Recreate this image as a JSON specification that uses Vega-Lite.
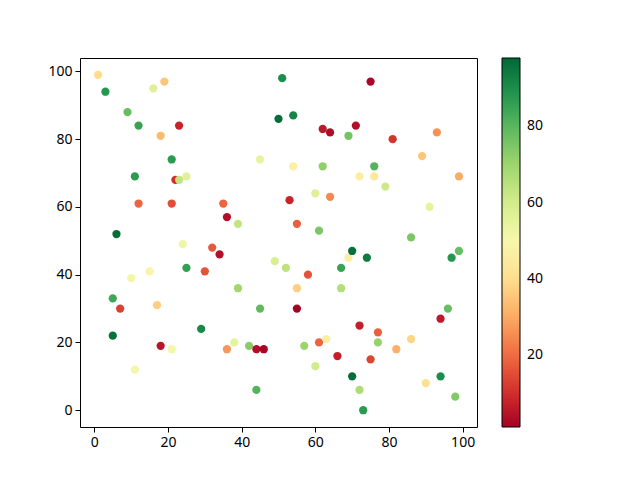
{
  "$schema": "https://vega.github.io/schema/vega-lite/v6.json",
  "autosize": {"type": "none"},
  "padding": {"left": 80, "top": 58, "right": 163, "bottom": 53},
  "width": 397,
  "height": 369,
  "background": "white",
  "data": {"values": [
    {"x":1,"y":99,"c":40},{"x":3,"y":94,"c":88},{"x":16,"y":95,"c":57},{"x":19,"y":97,"c":35},
    {"x":9,"y":88,"c":78},{"x":12,"y":84,"c":85},{"x":23,"y":84,"c":8},{"x":18,"y":81,"c":33},
    {"x":21,"y":74,"c":87},{"x":45,"y":74,"c":54},{"x":11,"y":69,"c":87},{"x":22,"y":68,"c":10},
    {"x":25,"y":69,"c":56},{"x":23,"y":68,"c":63},{"x":12,"y":61,"c":19},{"x":21,"y":61,"c":15},
    {"x":35,"y":61,"c":19},{"x":36,"y":57,"c":4},{"x":39,"y":55,"c":63},{"x":6,"y":52,"c":97},
    {"x":24,"y":49,"c":52},{"x":32,"y":48,"c":17},
    {"x":51,"y":98,"c":90},{"x":75,"y":97,"c":2},{"x":50,"y":86,"c":97},{"x":54,"y":87,"c":92},
    {"x":62,"y":83,"c":6},{"x":64,"y":82,"c":3},{"x":71,"y":84,"c":4},{"x":69,"y":81,"c":76},
    {"x":81,"y":80,"c":11},{"x":93,"y":82,"c":26},{"x":89,"y":75,"c":35},{"x":54,"y":72,"c":47},
    {"x":62,"y":72,"c":72},{"x":76,"y":72,"c":81},{"x":72,"y":69,"c":46},{"x":76,"y":69,"c":44},
    {"x":79,"y":66,"c":61},{"x":99,"y":69,"c":30},{"x":60,"y":64,"c":57},{"x":64,"y":63,"c":25},
    {"x":53,"y":62,"c":8},{"x":91,"y":60,"c":55},{"x":55,"y":55,"c":18},{"x":61,"y":53,"c":75},
    {"x":86,"y":51,"c":75},
    {"x":34,"y":46,"c":4},{"x":49,"y":44,"c":59},{"x":25,"y":42,"c":86},{"x":30,"y":41,"c":16},
    {"x":15,"y":41,"c":48},{"x":10,"y":39,"c":51},{"x":39,"y":36,"c":69},{"x":5,"y":33,"c":84},
    {"x":7,"y":30,"c":13},{"x":17,"y":31,"c":37},{"x":45,"y":30,"c":79},{"x":5,"y":22,"c":96},
    {"x":29,"y":24,"c":91},{"x":18,"y":19,"c":5},{"x":21,"y":18,"c":51},{"x":36,"y":18,"c":27},
    {"x":38,"y":20,"c":55},{"x":42,"y":19,"c":73},{"x":44,"y":18,"c":4},{"x":46,"y":18,"c":2},
    {"x":11,"y":12,"c":51},{"x":44,"y":6,"c":81},
    {"x":52,"y":42,"c":64},{"x":69,"y":45,"c":46},{"x":70,"y":47,"c":96},{"x":74,"y":45,"c":94},
    {"x":67,"y":42,"c":85},{"x":58,"y":40,"c":16},{"x":55,"y":36,"c":37},{"x":67,"y":36,"c":66},
    {"x":55,"y":30,"c":1},{"x":99,"y":47,"c":78},{"x":97,"y":45,"c":88},{"x":96,"y":30,"c":78},
    {"x":94,"y":27,"c":6},{"x":72,"y":25,"c":7},{"x":77,"y":23,"c":18},{"x":77,"y":20,"c":71},
    {"x":61,"y":20,"c":19},{"x":63,"y":21,"c":46},{"x":57,"y":19,"c":70},{"x":86,"y":21,"c":38},
    {"x":82,"y":18,"c":31},{"x":66,"y":16,"c":7},{"x":75,"y":15,"c":14},{"x":60,"y":13,"c":60},
    {"x":70,"y":10,"c":97},{"x":94,"y":10,"c":90},{"x":90,"y":8,"c":41},{"x":72,"y":6,"c":67},
    {"x":98,"y":4,"c":74},{"x":73,"y":0,"c":87}
  ]},
  "mark": {"type": "circle", "size": 68, "opacity": 1},
  "encoding": {
    "x": {"field": "x", "type": "quantitative",
          "scale": {"domain": [-3.9, 103.9], "nice": false, "zero": false},
          "axis": {"values": [0,20,40,60,80,100], "title": null}},
    "y": {"field": "y", "type": "quantitative",
          "scale": {"domain": [-4.95, 103.95], "nice": false, "zero": false},
          "axis": {"values": [0,20,40,60,80,100], "title": null}},
    "color": {"field": "c", "type": "quantitative",
              "scale": {"scheme": "redyellowgreen", "domain": [1, 98], "nice": false, "zero": false},
              "legend": {"orient": "none", "legendX": 422, "legendY": 0, "direction": "vertical",
                         "gradientLength": 369, "gradientThickness": 18,
                         "gradientStrokeColor": "black", "gradientStrokeWidth": 1,
                         "values": [20,40,60,80], "title": null,
                         "labelFontSize": 14, "labelColor": "black", "labelOffset": 7,
                         "labelFont": "Noto Sans", "labelOverlap": false}}
  },
  "config": {
    "view": {"stroke": "black", "strokeWidth": 1},
    "axis": {"grid": false, "domain": false, "tickColor": "black", "tickSize": 5, "tickWidth": 1,
             "labelFontSize": 14, "labelColor": "black", "labelFont": "Noto Sans", "labelPadding": 3},
    "legend": {"gradientVerticalMaxLength": 369, "gradientVerticalMinLength": 369}
  }
}
